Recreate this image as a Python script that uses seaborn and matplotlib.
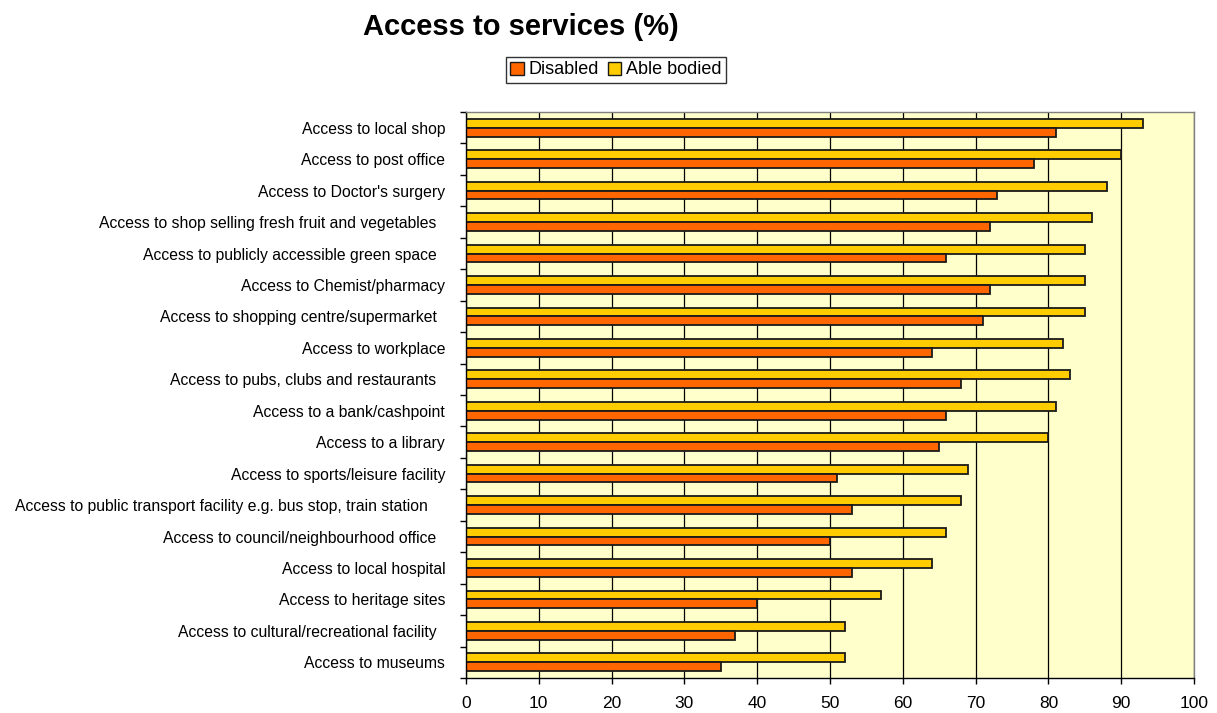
import matplotlib
matplotlib.use("Agg")
import matplotlib.pyplot as plt
import seaborn as sns
import pandas as pd
import numpy as np
from matplotlib.patches import Patch
from matplotlib.ticker import FixedLocator

categories = [
    "Access to local shop",
    "Access to post office",
    "Access to Doctor's surgery",
    "Access to shop selling fresh fruit and vegetables  ",
    "Access to publicly accessible green space  ",
    "Access to Chemist/pharmacy",
    "Access to shopping centre/supermarket  ",
    "Access to workplace",
    "Access to pubs, clubs and restaurants  ",
    "Access to a bank/cashpoint",
    "Access to a library",
    "Access to sports/leisure facility",
    "Access to public transport facility e.g. bus stop, train station    ",
    "Access to council/neighbourhood office  ",
    "Access to local hospital",
    "Access to heritage sites",
    "Access to cultural/recreational facility  ",
    "Access to museums",
]
disabled = [81, 78, 73, 72, 66, 72, 71, 64, 68, 66, 65, 51, 53, 50, 53, 40, 37, 35]
able_bodied = [93, 90, 88, 86, 85, 85, 85, 82, 83, 81, 80, 69, 68, 66, 64, 57, 52, 52]
x_ticks = [0, 10, 20, 30, 40, 50, 60, 70, 80, 90, 100]

series_names = ["Disabled", "Able bodied"]
palette = {"Disabled": "#FF6600", "Able bodied": "#FFCC00"}

df = pd.DataFrame({
    "service": categories * 2,
    "group": ["Disabled"] * len(categories) + ["Able bodied"] * len(categories),
    "value": disabled + able_bodied,
})

sns.set_style("white")
plt.rcParams["font.family"] = ["Liberation Sans", "DejaVu Sans"]
plt.rcParams["text.color"] = "black"
plt.rcParams["xtick.color"] = "black"
plt.rcParams["ytick.color"] = "black"

fig = plt.figure(figsize=(12.17, 7.13), dpi=100)
ax = fig.add_axes([466 / 1217, 1 - 678 / 713, 728 / 1217, (678 - 112) / 713])
ax.set_facecolor("#FFFFCC")

sns.barplot(
    data=df, y="service", x="value", hue="group",
    hue_order=["Able bodied", "Disabled"], order=categories,
    palette=palette, saturation=1, orient="h", width=0.56, gap=0,
    edgecolor="#1a1a1a", linewidth=1.3, ax=ax, legend=False,
)

ax.set_xlim(0, 100)
ax.set_ylim(len(categories) - 0.5, -0.5)
ax.set_xticks(x_ticks)
ax.set_xticklabels([str(t) for t in x_ticks], fontsize=12.5)
ax.xaxis.grid(True, color="black", linewidth=0.9)
ax.yaxis.grid(False)
ax.set_axisbelow(True)
ax.set_xlabel("")
ax.set_ylabel("")

ax.tick_params(axis="y", which="major", length=0, pad=15, labelsize=11.3, labelcolor="black")
ax.yaxis.set_minor_locator(FixedLocator(np.arange(-0.5, len(categories), 1.0)))
ax.tick_params(axis="y", which="minor", length=4, width=1, color="black", direction="out", left=True)
ax.tick_params(axis="x", which="major", length=4, width=1, color="black", direction="out",
               pad=9, bottom=True, labelcolor="black")

for side in ["left", "bottom"]:
    ax.spines[side].set_color("black")
    ax.spines[side].set_linewidth(1)
for side in ["top", "right"]:
    ax.spines[side].set_color("#808080")
    ax.spines[side].set_linewidth(1)

fig.text(521 / 1217, 1 - 27 / 713, "Access to services (%)", ha="center", va="center",
         fontsize=21, fontweight="bold", color="black")

handles = [Patch(facecolor=palette[n], edgecolor="#1a1a1a", linewidth=1) for n in series_names]
leg = fig.legend(handles, series_names, loc="center", bbox_to_anchor=(616 / 1217, 1 - 70 / 713),
                 ncol=2, fontsize=13, frameon=True, fancybox=False, edgecolor="black",
                 handlelength=0.75, handleheight=0.75, handletextpad=0.25, columnspacing=0.5,
                 borderpad=0.25, borderaxespad=0)
leg.get_frame().set_linewidth(1)

fig.savefig("out.png", dpi=100)
